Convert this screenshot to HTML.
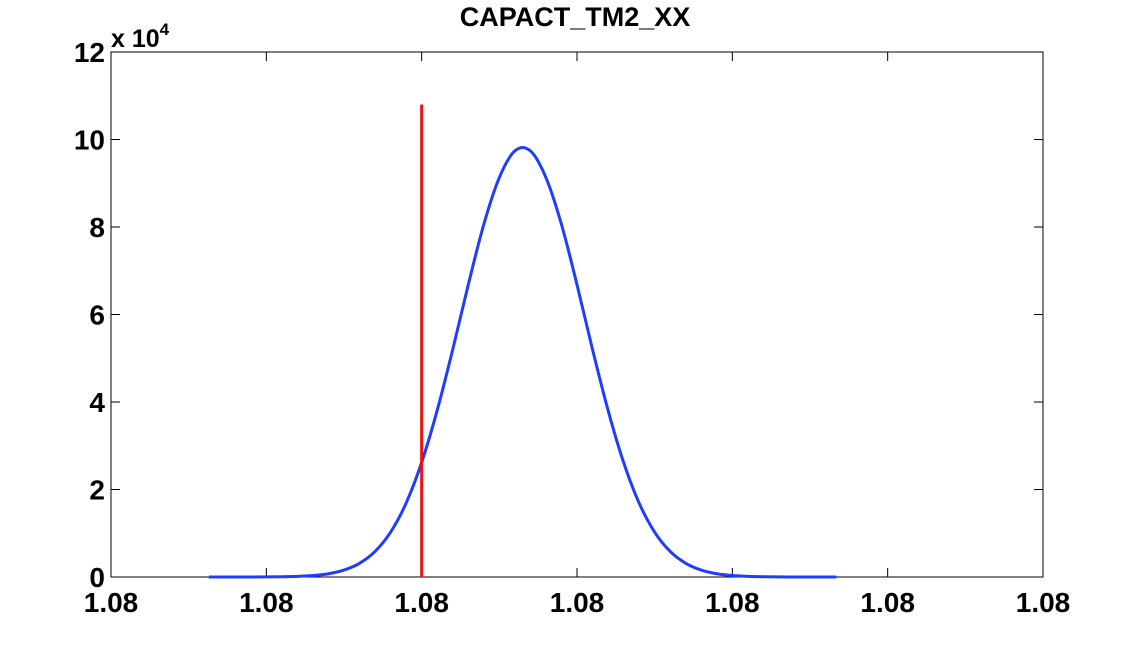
<!DOCTYPE html>
<html><head><meta charset="utf-8"><style>
body{margin:0;background:#fff;width:1126px;height:654px;overflow:hidden}
svg{display:block;font-family:"Liberation Sans",Arial,sans-serif}
</style></head><body>
<svg id="chart" width="1126" height="654"></svg>
<script>
const xTickLabels=["1.08","1.08","1.08","1.08","1.08","1.08","1.08"];
const yTickLabels=["0","2","4","6","8","10","12"];
const curveX=[0.63,0.7,0.8,0.9,1.0,1.1,1.2,1.3,1.4,1.5,1.6,1.7,1.8,1.9,2.0,2.1,2.2,2.3,2.4,2.5,2.6,2.7,2.8,2.9,3.0,3.1,3.2,3.3,3.4,3.5,3.6,3.7,3.8,3.9,4.0,4.1,4.2,4.3,4.4,4.5,4.6,4.67];
const curveY=[0,0,0,7,20,54,137,330,740,1580,3130,5840,10250,16900,26200,38100,52000,66800,80600,91300,97400,97400,91300,80600,66800,52000,38100,26200,16900,10250,5840,3130,1580,740,330,137,54,20,7,0,0,0];
const markerX=[2.0];
const markerTop=[108000];

const L=111,R=1043,T=52,B=577;
const sx=u=>L+(R-L)*u/6;
const sy=v=>B-(B-T)*v/120000;
const NS="http://www.w3.org/2000/svg";
const svg=document.getElementById('chart');
function mk(t,a,p){const e=document.createElementNS(NS,t);for(const k in a)e.setAttribute(k,a[k]);(p||svg).appendChild(e);return e;}

const frame=mk('rect',{x:L,y:T,width:R-L,height:B-T,fill:'#fff',stroke:'#000','stroke-width':1});



xTickLabels.forEach((s,i)=>{
  const x=sx(i);
  const t1=mk('line',{x1:x,x2:x,y1:B,y2:B-9,stroke:'#000'});
  
  
  const t2=mk('line',{x1:x,x2:x,y1:T,y2:T+9,stroke:'#000'});
  
  
  const tx=mk('text',{x:x,y:612,'text-anchor':'middle','font-size':28,'font-weight':'bold'});
  tx.textContent=s;
  
  
});
yTickLabels.forEach((s,i)=>{
  const y=sy(i*20000);
  const t1=mk('line',{x1:L,x2:L+9,y1:y,y2:y,stroke:'#000'});
  
  
  const t2=mk('line',{x1:R,x2:R-9,y1:y,y2:y,stroke:'#000'});
  
  
  const tx=mk('text',{x:L-6,y:y+10,'text-anchor':'end','font-size':28,'font-weight':'bold'});
  tx.textContent=s;
  
  
});
const ex=mk('text',{x:111,y:47,'font-size':25,'font-weight':'bold'});
ex.innerHTML='x 10<tspan dy="-12" font-size="17">4</tspan>';



const title=mk('text',{x:575,y:26,'text-anchor':'middle','font-size':27,'font-weight':'bold'});
title.textContent='CAPACT_TM2_XX';



let d='';
for(let i=0;i<curveX.length;i++){
  const x=sx(curveX[i]),y=sy(curveY[i]);
  if(i===0){d+=`M${x},${y}`;continue;}
  const x0=sx(curveX[Math.max(i-2,0)]),y0=sy(curveY[Math.max(i-2,0)]);
  const x1=sx(curveX[i-1]),y1=sy(curveY[i-1]);
  const x3=sx(curveX[Math.min(i+1,curveX.length-1)]),y3=sy(curveY[Math.min(i+1,curveX.length-1)]);
  d+=`C${x1+(x-x0)/6},${y1+(y-y0)/6} ${x-(x3-x1)/6},${y-(y3-y1)/6} ${x},${y}`;
}
const curve=mk('path',{d:d,fill:'none',stroke:'#1f3cff','stroke-width':3});



markerX.forEach((m,i)=>{
  const ln=mk('line',{x1:sx(m),x2:sx(m),y1:sy(0),y2:sy(markerTop[i]),stroke:'#ee1111','stroke-width':3});
  
  
});
</script>
</body></html>
